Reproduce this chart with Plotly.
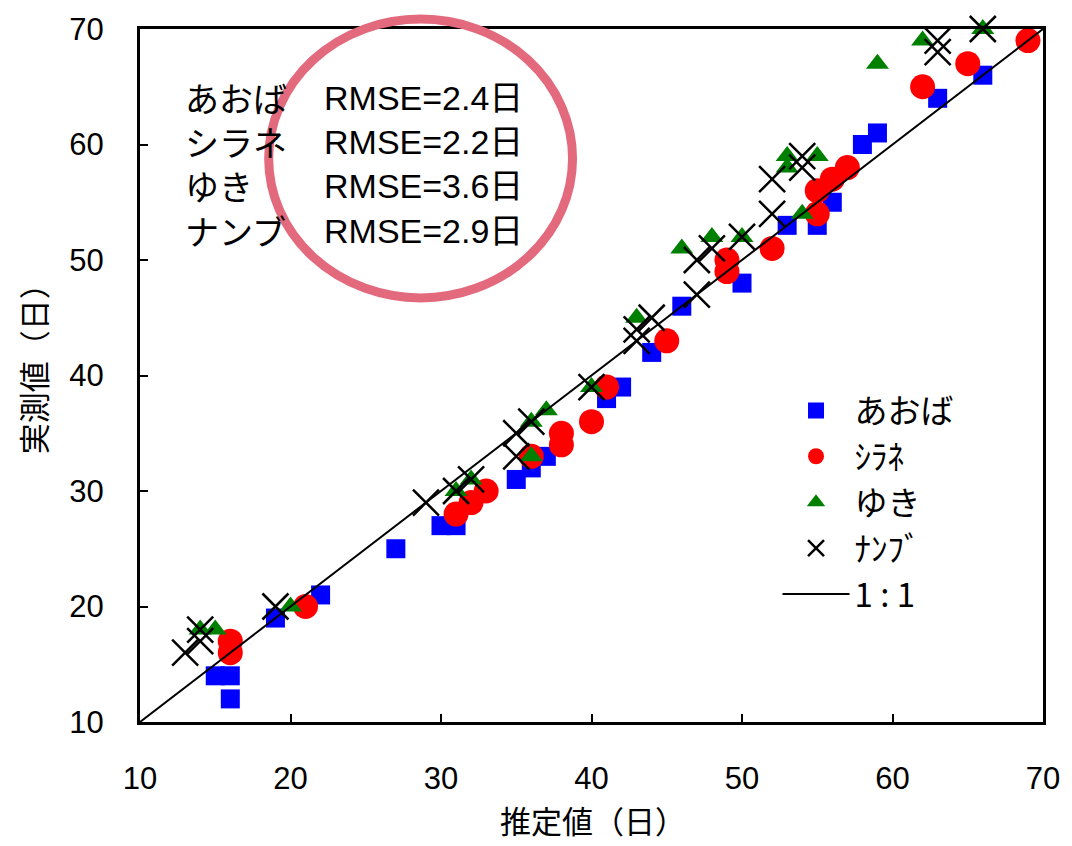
import plotly.graph_objects as go

# Estimated vs. observed days, by cultivar
aoba_x = [15, 16, 16, 19, 22, 27, 30, 31, 35, 36, 37, 41, 42, 44, 46, 50, 53, 55, 56, 58, 59, 63, 66]
aoba_y = [14, 14, 12, 19, 21, 25, 27, 27, 31, 32, 33, 38, 39, 42, 46, 48, 53, 53, 55, 60, 61, 64, 66]

shirane_x = [16, 16, 21, 31, 32, 33, 36, 38, 38, 40, 41, 45, 49, 49, 52, 55, 55, 56, 57, 62, 65, 69]
shirane_y = [17, 16, 20, 28, 29, 30, 33, 34, 35, 36, 39, 43, 50, 49, 51, 54, 56, 57, 58, 65, 67, 69]

yuki_x = [14, 15, 20, 31, 32, 36, 36, 37, 40, 43, 46, 48, 50, 53, 53, 54, 55, 59, 62, 66]
yuki_y = [18, 18, 20, 30, 31, 33, 36, 37, 39, 45, 51, 52, 52, 59, 58, 54, 59, 67, 69, 70]

nanbu_x = [13, 14, 14, 19, 29, 31, 32, 35, 35, 36, 40, 43, 43, 44, 47, 47, 48, 50, 52, 52, 54, 54, 63, 63, 66]
nanbu_y = [16, 18, 17, 20, 29, 30, 31, 35, 33, 36, 39, 43, 44, 45, 47, 50, 51, 52, 54, 57, 58, 59, 69, 68, 70]

one_to_one = [10, 70]

names = ["あおば", "シラネ", "ゆき", "ナンブ"]
rmse = [2.4, 2.2, 3.6, 2.9]

legend_names = ["あおば", "ｼﾗﾈ", "ゆき", "ﾅﾝﾌﾞ", "1 : 1"]
x_title = "推定値（日）"
y_title = "実測値（日）"

latin = "Liberation Sans, Arial, Noto Sans CJK JP, sans-serif"
jp = "Noto Sans CJK JP, Liberation Sans, sans-serif"

fig = go.Figure()

fig.add_trace(go.Scatter(
    x=aoba_x, y=aoba_y, mode="markers", name=legend_names[0], cliponaxis=False,
    marker=dict(symbol="square", size=19, color="#0000FF"),
))
fig.add_trace(go.Scatter(
    x=shirane_x, y=shirane_y, mode="markers", name=legend_names[1], cliponaxis=False,
    marker=dict(symbol="circle", size=25, color="#FF0000"),
))
fig.add_trace(go.Scatter(
    x=yuki_x, y=yuki_y, mode="markers", name=legend_names[2], cliponaxis=False,
    marker=dict(symbol="triangle-up", size=20, color="#008000"),
))
fig.add_trace(go.Scatter(
    x=nanbu_x, y=nanbu_y, mode="markers", name=legend_names[3], cliponaxis=False,
    marker=dict(symbol="x-thin-open", size=26, color="black",
                line=dict(width=2.5, color="black")),
))
fig.add_trace(go.Scatter(
    x=one_to_one, y=one_to_one, mode="lines", name=legend_names[4],
    line=dict(color="black", width=2),
))

# RMSE summary block: cultivar names and their RMSE values as two text columns
fig.add_annotation(x=0.048, y=0.805, xref="paper", yref="paper",
                   text="<br>".join(names), align="left",
                   showarrow=False, xanchor="left", yanchor="middle",
                   font=dict(family=jp, size=34, color="black"))
fig.add_annotation(x=0.2015, y=0.805, xref="paper", yref="paper",
                   text="<br>".join(f"RMSE={r}日" for r in rmse), align="left",
                   showarrow=False, xanchor="left", yanchor="middle",
                   font=dict(family=latin, size=34, color="black"))

fig.add_shape(type="circle", xref="paper", yref="paper",
              x0=0.1425, x1=0.4790, y0=0.6120, y1=1.0143,
              line=dict(color="#E3697D", width=9), layer="above")

# Axis titles
fig.add_annotation(x=0.502, y=-0.141, xref="paper", yref="paper", text=x_title,
                   showarrow=False, xanchor="center", yanchor="middle",
                   font=dict(family=jp, size=31, color="black"))
fig.add_annotation(x=-0.119, y=0.52, xref="paper", yref="paper", text=y_title,
                   showarrow=False, xanchor="center", yanchor="middle", textangle=-90,
                   font=dict(family=jp, size=31, color="black"))

axis_common = dict(
    range=[10, 70], dtick=10, tick0=10,
    showline=True, linecolor="black", linewidth=3, mirror=True,
    ticks="inside", ticklen=8, tickwidth=2, tickcolor="black",
    showgrid=False, zeroline=False, ticklabeloverflow="allow",
    tickfont=dict(family=latin, size=31, color="black"),
)

fig.update_layout(
    width=1072, height=846,
    margin=dict(l=140, r=20, t=24, b=124),
    plot_bgcolor="white", paper_bgcolor="white",
    xaxis=dict(**axis_common, ticklabelstandoff=27),
    yaxis=dict(**axis_common, ticklabelstandoff=27),
    legend=dict(x=0.706, y=0.49, xanchor="left", yanchor="top",
                bgcolor="rgba(0,0,0,0)", itemwidth=67,
                font=dict(family=jp, size=33, color="black"),
                tracegroupgap=0),
    showlegend=True,
)

fig.write_html("out.html")
